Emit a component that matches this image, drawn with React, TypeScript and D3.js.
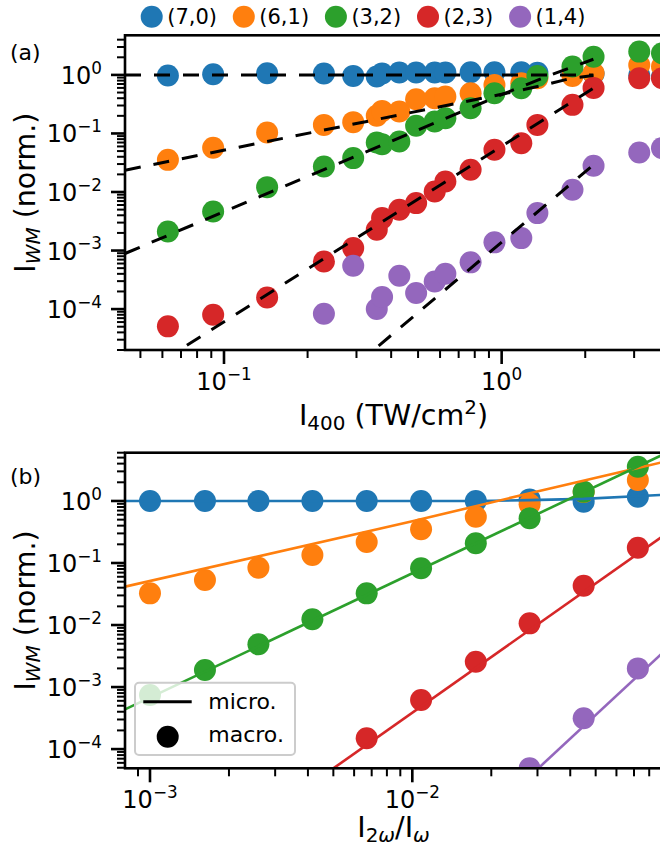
import React from 'react';
import * as d3 from 'd3';

// ---------- shared ----------
const COLORS = ['#1f77b4', '#ff7f0e', '#2ca02c', '#d62728', '#9467bd'];
const LABELS = ['(7,0)', '(6,1)', '(3,2)', '(2,3)', '(1,4)'];

// ---------- panel (a) data: I_400 (TW/cm^2) ----------
const xA = [0.0628, 0.0914, 0.143, 0.229, 0.292, 0.355, 0.371, 0.428, 0.492, 0.574, 0.627, 0.773, 0.942, 1.177, 1.345, 1.799, 2.143, 3.13, 3.78];
const blueA = [0.974, 1.026, 1.068, 1.054, 0.962, 0.936, 1.06, 1.096, 1.096, 1.096, 1.096, 1.11, 1.11, 1.11, 1.09, 1.04, 1.05, 0.98, 0.92];
const orangeA = [0.0354, 0.0568, 0.1037, 0.14, 0.156, 0.2, 0.243, 0.237, 0.385, 0.4, 0.427, 0.486, 0.67, 0.72, 0.877, 0.96, 1.07, 1.48, 1.39];
const greenA = [0.00212, 0.00465, 0.0121, 0.0273, 0.0379, 0.07, 0.0656, 0.0728, 0.135, 0.16, 0.182, 0.27, 0.486, 0.59, 0.96, 1.39, 2.05, 2.5, 2.34];
const redA = [5.07e-5, 8.0e-5, 1.58e-4, 6.52e-4, 1.1e-3, 2.26e-3, 3.58e-3, 4.97e-3, 6.46e-3, 0.0102, 0.0151, 0.0239, 0.0525, 0.068, 0.14, 0.308, 0.6, 0.877, 0.877];
const purpleA = [null, null, null, 8.35e-5, 5.5e-4, 1.0e-4, 1.61e-4, 3.72e-4, 1.88e-4, 2.97e-4, 4.02e-4, 6.28e-4, 1.38e-3, 1.63e-3, 4.36e-3, 0.0109, 0.028, 0.0473, 0.0561];

// dashed power-law fits (x, y)
const fitBlueA = [[0.044, 1.0], [2.14, 1.0]];
const fitOrangeA = [[0.044, 0.0236], [1.0, 0.467], [1.4, 0.66], [1.75, 0.86], [2.14, 0.98]];
const fitGreenA = [[0.044, 8.9e-4], [1.0, 0.46], [1.5, 1.0], [2.14, 1.85]];
const fitRedA = [[0.06, 1.31e-5], [2.14, 0.593]];
const fitPurpleA = [[0.3, 1.13e-5], [2.14, 0.0291]];

// ---------- panel (b) data: I_2w / I_w ----------
const xB = [0.001, 0.00162, 0.00259, 0.00416, 0.0067, 0.0108, 0.01746, 0.028, 0.045, 0.0724];
const blueB = [1.0, 1.0, 1.0, 1.0, 1.0, 1.0, 1.0, 1.06, 0.97, 1.17];
const orangeB = [0.0324, 0.0532, 0.0841, 0.1346, 0.218, 0.349, 0.558, 0.884, 1.4, 2.18];
const greenB = [7.43e-4, 1.88e-3, 4.89e-3, 0.01236, 0.0324, 0.0822, 0.208, 0.526, 1.41, 3.57];
const redB = [null, null, null, null, 1.49e-4, 6.17e-4, 2.56e-3, 0.01064, 0.043, 0.1766];
const purpleB = [null, null, null, null, null, null, null, 4.9e-5, 3.13e-4, 2.0e-3];

// micro (solid) curves (x, y)
const microBlue = [[8.03e-4, 1.0], [0.0175, 1.0], [0.028, 1.03], [0.045, 1.08], [0.0895, 1.25]];
const microOrange = [[8.03e-4, 0.0415], [0.01, 0.47], [0.028, 1.33], [0.0724, 3.4], [0.0895, 4.2]];
const microGreen = [[8.03e-4, 4.37e-4], [0.0895, 5.5]];
const microRed = [[5.0e-3, 4.89e-5], [0.0895, 0.265]];
const microPurple = [[0.0302, 4.89e-5], [0.0895, 3.5e-3]];

// ticks
const yTickExps = [0, -1, -2, -3, -4];
const xTickExpsA = [-1, 0];
const xTickExpsB = [-3, -2];

// ---------- layout ----------
const W = 660;
const H = 847;
const FONT = 'DejaVu Sans';
const TICK_FS = 24;
const LABEL_FS = 28.5;
const SUB = 0.16;

const A = { left: 125, right: 662, top: 35.3, bottom: 350 };
const B = { left: 125, right: 662, top: 452.7, bottom: 768.3 };

const xsA = d3.scaleLog().domain([0.044, 3.78]).range([A.left, A.right]);
const ysA = d3.scaleLog().domain([2.0e-5, 4.75]).range([A.bottom, A.top]);
const xsB = d3.scaleLog().domain([8.03e-4, 0.0895]).range([B.left, B.right]);
const ysB = d3.scaleLog().domain([4.9e-5, 6.0]).range([B.bottom, B.top]);

const sup = (e: number) => (e < 0 ? '\u2212' + Math.abs(e) : String(e));

function logTicks(domain: number[]) {
  const [a, b] = domain;
  const out: { v: number; major: boolean }[] = [];
  for (let e = Math.floor(Math.log10(a)); e <= Math.ceil(Math.log10(b)); e++) {
    for (let m = 1; m <= 9; m++) {
      const v = m * Math.pow(10, e);
      if (v >= a * 0.9999 && v <= b * 1.0001) out.push({ v, major: m === 1 });
    }
  }
  return out;
}

function Pow10({ x, y, exp, anchor }: any) {
  return (
    <text x={x} y={y} textAnchor={anchor} fontSize={TICK_FS} fill="#000">
      10
      <tspan dy={-0.42 * TICK_FS} fontSize={TICK_FS * 0.7}>{sup(exp)}</tspan>
    </text>
  );
}

function Axes({ box, xs, ys, xExps }: any) {
  const xt = logTicks(xs.domain());
  const yt = logTicks(ys.domain());
  return (
    <g>
      {xt.map((t, i) => (
        <line key={'x' + i} x1={xs(t.v)} x2={xs(t.v)} y1={box.bottom} y2={box.bottom + (t.major ? 14 : 8)}
          stroke="#000" strokeWidth={t.major ? 2.6 : 2} />
      ))}
      {yt.map((t, i) => (
        <line key={'y' + i} y1={ys(t.v)} y2={ys(t.v)} x1={box.left} x2={box.left - (t.major ? 14 : 8)}
          stroke="#000" strokeWidth={t.major ? 2.6 : 2} />
      ))}
      {xExps.map((e: number) => (
        <Pow10 key={'xl' + e} x={xs(Math.pow(10, e))} y={box.bottom + 40} exp={e} anchor="middle" />
      ))}
      {yTickExps.map((e) => (
        <Pow10 key={'yl' + e} x={102} y={ys(Math.pow(10, e)) + 9} exp={e} anchor="end" />
      ))}
      <rect x={box.left} y={box.top} width={box.right - box.left} height={box.bottom - box.top}
        fill="none" stroke="#000" strokeWidth={2.6} />
    </g>
  );
}

function YLabel({ cy }: any) {
  return (
    <text transform={`translate(35,${cy}) rotate(-90)`} textAnchor="middle" fontSize={LABEL_FS}
      style={{ whiteSpace: 'pre' }} fill="#000">
      I
      <tspan fontSize={LABEL_FS * 0.7} fontStyle="italic" dy={SUB * LABEL_FS}>WM</tspan>
      <tspan dy={-SUB * LABEL_FS}> (norm.)</tspan>
    </text>
  );
}

export default function App() {
  const seriesA = [blueA, orangeA, greenA, redA, purpleA];
  const fitsA = [fitBlueA, fitOrangeA, fitGreenA, fitRedA, fitPurpleA];
  const seriesB = [blueB, orangeB, greenB, redB, purpleB];
  const microsB = [microBlue, microOrange, microGreen, microRed, microPurple];

  const lineA = d3.line<number[]>().x((d) => xsA(d[0])).y((d) => ysA(d[1]));
  const lineB = d3.line<number[]>().x((d) => xsB(d[0])).y((d) => ysB(d[1]));

  return (
    <svg width={W} height={H} style={{ position: 'absolute', left: 0, top: 0, background: '#fff' }}
      fontFamily={FONT}>
      <defs>
        <clipPath id="clipA">
          <rect x={A.left} y={A.top} width={A.right - A.left} height={A.bottom - A.top} />
        </clipPath>
        <clipPath id="clipB">
          <rect x={B.left} y={B.top} width={B.right - B.left} height={B.bottom - B.top} />
        </clipPath>
      </defs>
      <rect x={0} y={0} width={W} height={H} fill="#fff" />

      {/* top legend */}
      {LABELS.map((lab, i) => {
        const cx = 151.7 + i * 92.1;
        return (
          <g key={lab}>
            <circle cx={cx} cy={16.7} r={11} fill={COLORS[i]} />
            <text x={cx + 15.5} y={24} fontSize={21} fill="#000">{lab}</text>
          </g>
        );
      })}

      {/* panel (a) */}
      <g clipPath="url(#clipA)">
        {seriesA.map((s, si) =>
          s.map((v, i) => (v == null ? null : (
            <circle key={`a${si}-${i}`} cx={xsA(xA[i])} cy={ysA(v)} r={11} fill={COLORS[si]} />
          )))
        )}
        {fitsA.map((f, i) => (
          <path key={'fa' + i} d={lineA(f as any) || ''} fill="none" stroke="#000" strokeWidth={3}
            strokeDasharray="16 13" />
        ))}
      </g>
      <Axes box={A} xs={xsA} ys={ysA} xExps={xTickExpsA} />
      <text x={10} y={60} fontSize={22} fill="#000">(a)</text>
      <YLabel cy={(A.top + A.bottom) / 2} />
      <text x={(A.left + A.right) / 2} y={425} textAnchor="middle" fontSize={LABEL_FS} fill="#000"
        style={{ whiteSpace: 'pre' }}>
        I
        <tspan fontSize={LABEL_FS * 0.7} dy={SUB * LABEL_FS}>400</tspan>
        <tspan dy={-SUB * LABEL_FS}> (TW/cm</tspan>
        <tspan fontSize={LABEL_FS * 0.7} dy={-0.38 * LABEL_FS}>2</tspan>
        <tspan dy={0.38 * LABEL_FS}>)</tspan>
      </text>

      {/* panel (b) */}
      <g clipPath="url(#clipB)">
        {seriesB.map((s, si) =>
          s.map((v, i) => (v == null ? null : (
            <circle key={`b${si}-${i}`} cx={xsB(xB[i])} cy={ysB(v)} r={11} fill={COLORS[si]} />
          )))
        )}
        {microsB.map((m, i) => (
          <path key={'mb' + i} d={lineB(m as any) || ''} fill="none" stroke={COLORS[i]} strokeWidth={2.6} />
        ))}
      </g>
      <Axes box={B} xs={xsB} ys={ysB} xExps={xTickExpsB} />
      <text x={10} y={484} fontSize={22} fill="#000">(b)</text>
      <YLabel cy={(B.top + B.bottom) / 2} />
      <text x={(B.left + B.right) / 2} y={837} textAnchor="middle" fontSize={LABEL_FS} fill="#000">
        I
        <tspan fontSize={LABEL_FS * 0.7} dy={SUB * LABEL_FS}>2</tspan>
        <tspan fontSize={LABEL_FS * 0.7} fontStyle="italic">ω</tspan>
        <tspan dy={-SUB * LABEL_FS}>/I</tspan>
        <tspan fontSize={LABEL_FS * 0.7} fontStyle="italic" dy={SUB * LABEL_FS}>ω</tspan>
      </text>

      {/* legend (b) */}
      <g>
        <rect x={135} y={682.7} width={160} height={72.3} rx={4} fill="#fff" fillOpacity={0.8}
          stroke="#cccccc" strokeWidth={2} />
        <line x1={143.3} x2={191.7} y1={701.7} y2={701.7} stroke="#000" strokeWidth={3} />
        <text x={208.3} y={709.3} fontSize={22} fill="#000">micro.</text>
        <circle cx={167.7} cy={736.7} r={11} fill="#000" />
        <text x={208.3} y={741.7} fontSize={22} fill="#000">macro.</text>
      </g>
    </svg>
  );
}
